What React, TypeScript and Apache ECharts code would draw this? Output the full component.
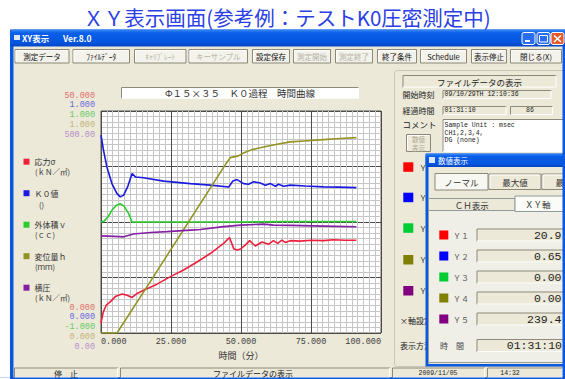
import React, { useEffect, useRef } from "react";
import * as echarts from "echarts";

// ---------- data ----------
const seriesNames = ["応力σ", "Ｋ０値", "外体積ｖ", "変位量ｈ", "横圧"];
const seriesUnits = ["(ｋＮ／㎡)", "()", "(ｃｃ)", "(ｍｍ)", "(ｋＮ／㎡)"];

const stressTime = [0, 0.8, 1.9, 3.3, 5.1, 7.5, 9.3, 11.1, 12.9, 15.8, 20, 24.8, 29.5, 34.3, 39, 43.8, 45.9, 47.4, 48.6, 49.8, 51.5, 53.1, 55.1, 57.5, 59.9, 61.6, 63.1, 64.6, 65.8, 67.6, 71, 75, 79.4, 83, 87, 91.2];
const stressValues = [2.2, 4.7, 6.3, 7.0, 8.2, 8.8, 8.5, 8.0, 8.9, 9.8, 11.0, 12.7, 14.2, 16.0, 17.9, 20.2, 21.5, 19.0, 18.7, 18.9, 19.8, 20.8, 19.6, 20.5, 20.0, 20.8, 20.2, 20.9, 20.4, 20.8, 20.7, 20.9, 20.8, 21.0, 20.9, 20.9];

const k0Time = [0, 0.9, 2.1, 3.9, 5.7, 6.9, 8.1, 9.5, 11.1, 12.3, 15.2, 22.4, 31.9, 39, 45.6, 47.1, 48.6, 50.9, 52.7, 54.5, 56.9, 58.7, 60.5, 62.3, 63.4, 65.2, 67.6, 73, 79.5, 85, 91.2];
const k0Values = [0.891, 0.823, 0.748, 0.673, 0.628, 0.613, 0.621, 0.658, 0.718, 0.703, 0.699, 0.684, 0.673, 0.666, 0.658, 0.685, 0.691, 0.673, 0.67, 0.681, 0.676, 0.666, 0.673, 0.661, 0.67, 0.661, 0.666, 0.662, 0.658, 0.657, 0.655];

const volumeTime = [0, 1.2, 2.6, 4.0, 5.5, 6.9, 8.3, 9.8, 11.1, 30, 50, 66, 91.2];
const volumeValues = [0, 0.01, 0.05, 0.11, 0.15, 0.165, 0.14, 0.08, 0, 0, 0, 0.005, 0.005];

const dispTime = [0, 5.7, 16.4, 44.75, 46.2, 49.1, 50.9, 53.9, 55.7, 59.3, 62.9, 67.6, 72.4, 79.5, 85.5, 91.2];
const dispValues = [0, 0, 0.208, 0.765, 0.79, 0.798, 0.811, 0.826, 0.831, 0.841, 0.85, 0.861, 0.865, 0.871, 0.876, 0.88];

const lateralTime = [0, 6.9, 8.1, 11.6, 17.6, 23.6, 31.9, 35.5, 43.8, 49.8, 58.1, 61.6, 67.6, 79.5, 91.2];
const lateralValues = [218.8, 217, 216.6, 223, 226.5, 228.3, 231.7, 233.2, 239.5, 242.9, 245.2, 242.9, 242.3, 240.7, 239.4];

const yMins = [0, 0, -1, 0, 0];
const yMaxs = [50, 1, 1, 1, 500];
const yMaxLabels = ["50.000", "1.000", "1.000", "1.000", "500.00"];
const yMinLabels = ["0.000", "0.000", "-1.000", "0.000", "0.00"];

const xTickValues = [0, 25, 50, 75, 100];
const xTickLabels = ["0.000", "25.000", "50.000", "75.000", "100.000"];
const xAxisName = "時間（分）";

const pageTitle = "ＸＹ表示画面(参考例：テストK0圧密測定中)";
const chartTitle = "Φ１５×３５　Ｋ０過程　時間曲線";
const toolbarLabels = ["測定データ", "ﾌｧｲﾙﾃﾞｰﾀ", "ｷｬﾘﾌﾞﾚｰﾄ", "キーサンプル", "設定保存", "測定開始", "測定終了", "終了条件", "Schedule", "表示停止", "閉じる(X)"];
const toolbarDisabled = [false, false, true, true, false, true, true, false, false, false, false];
const commentLines = ["Sample Unit : msec", "CH1,2,3,4,", "DG (none)"];
const dialogLabels = ["Ｙ１", "Ｙ２", "Ｙ３", "Ｙ４", "Ｙ５"];
const dialogValues = ["20.9", "0.65", "0.00", "0.00", "239.4"];

// ---------- styles ----------
const FONT_JP = '"Noto Sans CJK JP", "Noto Sans", sans-serif';
const FONT_MONO = '"Liberation Mono", "DejaVu Sans Mono", monospace';
const lineColors = ["#f0203c", "#1a1ae0", "#2ccc2c", "#939322", "#8420a4"];
const squareColors = ["#ff0000", "#0000ff", "#00cc33", "#808000", "#800080"];
const labelColors = ["#e07070", "#6868e0", "#66cc66", "#c4b47c", "#b890cc"];
const maxLabelShift = [15, 5.7, -4.3, -13.6, -24]; // + = up
const minLabelShift = [25.3, 15.7, 6, -3.7, -13.7];

const GRID = { left: 101, top: 111, width: 280, height: 222 };

function shiftPad(d: number) {
  return d >= 0 ? [0, 0, 2 * d, 0] : [-2 * d, 0, 0, 0];
}

function titleGrad() {
  return {
    type: "linear", x: 0, y: 0, x2: 0, y2: 1,
    colorStops: [
      { offset: 0, color: "#3d8bf7" },
      { offset: 0.2, color: "#0a5fe8" },
      { offset: 0.8, color: "#0654de" },
      { offset: 1, color: "#0043c0" },
    ],
  };
}

function buildGraphics() {
  const g: any[] = [];
  const rect = (x: number, y: number, w: number, h: number, fill: any, z: number, stroke?: string, r: number = 0) =>
    g.push({ type: "rect", z, silent: true, shape: { x, y, width: w, height: h, r }, style: { fill, stroke: stroke || null, lineWidth: stroke ? 1 : 0 } });
  const line = (pts: number[][], stroke: string, z: number, lw = 1) =>
    g.push({ type: "polyline", z, silent: true, shape: { points: pts }, style: { stroke, lineWidth: lw, fill: null } });
  const text = (x: number, y: number, s: string, o: any = {}) =>
    g.push({
      type: "text", z: o.z ?? 2, silent: true, x, y,
      style: {
        text: s, fill: o.color ?? "#000", fontSize: o.size ?? 8, fontFamily: o.font ?? FONT_JP,
        fontWeight: o.weight ?? "normal", align: o.align ?? "left", verticalAlign: "middle",
        textAlign: o.align ?? "left", textVerticalAlign: "middle",
      },
    });
  const sunken = (x: number, y: number, w: number, h: number, fill: string, z: number) => {
    rect(x, y, w, h, fill, z);
    line([[x + 0.5, y + h], [x + 0.5, y + 0.5], [x + w, y + 0.5]], "#8d8a7c", z);
    line([[x + w - 0.5, y + 0.5], [x + w - 0.5, y + h - 0.5], [x + 0.5, y + h - 0.5]], "#ffffff", z);
  };
  const raised = (x: number, y: number, w: number, h: number, fill: string, z: number) => {
    rect(x + 0.5, y + 0.5, w - 1, h - 1, fill, z, "#8b8878");
    line([[x + 1.5, y + h - 2], [x + 1.5, y + 1.5], [x + w - 2, y + 1.5]], "#ffffff", z);
  };

  // page + heading
  rect(0, 0, 565, 379, "#ffffff", -9);
  text(287, 16.5, pageTitle, { size: 20.5, color: "#2a40e6", align: "center" });

  // main window
  rect(10, 29.5, 560, 350, "#0b58e0", -8);
  rect(10, 29.5, 560, 17, titleGrad(), -8, undefined, 3);
  rect(13.5, 46.5, 560, 331, "#ece9d8", -7);
  rect(14, 35, 6, 5, "#dfe6f5", 1);
  text(22, 38, "XY表示", { size: 8.5, color: "#ffffff", weight: "bold" });
  text(63, 38, "Ver.8.0", { size: 8.5, color: "#ffffff", weight: "bold" });
  // caption buttons
  rect(522, 32.5, 13, 12, "#2a6ef0", 1, "#ffffff", 2);
  rect(525, 40, 5, 2, "#ffffff", 2);
  rect(537, 32.5, 13, 12, "#2a6ef0", 1, "#ffffff", 2);
  rect(539.5, 35.5, 8, 6.5, null, 2, "#ffffff");
  rect(551, 32.5, 13, 12, "#e35a2c", 1, "#ffffff", 2);
  line([[554, 35.5], [561, 42]], "#ffffff", 2, 1.5);
  line([[561, 35.5], [554, 42]], "#ffffff", 2, 1.5);

  // toolbar
  const tbX = [14.5, 72.5, 134, 188.5, 252, 293, 335, 377, 420, 471, 510];
  const tbW = [55, 57.5, 52.5, 59.5, 38, 38, 38, 40, 47, 36, 52];
  toolbarLabels.forEach((lab, i) => {
    raised(tbX[i], 49, tbW[i], 14.5, "#f3f2eb", -5);
    text(tbX[i] + tbW[i] / 2, 56.3, lab, { size: 7.5, align: "center", color: toolbarDisabled[i] ? "#b5b2a3" : "#111" });
  });

  // chart title box
  sunken(121, 87, 238, 11.5, "#ffffff", -5);
  text(240, 93, chartTitle, { size: 9.5, align: "center", color: "#333" });

  // legend units
  const unitY = [171.7, 204, 234.7, 266.3, 297.7];
  seriesUnits.forEach((u, i) => text(u === "()" ? 39 : 35, unitY[i], u, { size: 7.5, color: "#333" }));

  // right group box
  rect(394.5, 70.5, 180, 296, null, -6, "#c9c6b6", 3);
  sunken(402.5, 75, 154, 12.5, "#ece9d8", -5);
  text(479.5, 81.5, "ファイルデータの表示", { size: 8.5, align: "center", color: "#222" });
  text(402.5, 94.5, "開始時刻", { size: 8, color: "#222" });
  sunken(442.5, 90, 109, 9, "#ece9d8", -5);
  text(444.5, 94.7, "09/10/29TH 12:10:36", { size: 6.5, font: FONT_MONO, color: "#222" });
  text(402.5, 110.5, "経過時間", { size: 8, color: "#222" });
  sunken(442.5, 106, 64, 9, "#ece9d8", -5);
  text(444.5, 110.7, "01:31:10", { size: 6.5, font: FONT_MONO, color: "#222" });
  sunken(510, 106, 43, 9, "#ece9d8", -5);
  text(530, 110.7, "86", { size: 6.5, font: FONT_MONO, color: "#222", align: "center" });
  text(402.5, 123.5, "コメント", { size: 8.5, color: "#222" });
  sunken(442.5, 119, 130, 33, "#ffffff", -5);
  commentLines.forEach((c, i) => text(444.5, 125.5 + i * 7.6, c, { size: 6.5, font: FONT_MONO, color: "#222" }));
  raised(406, 134, 25, 18, "#ece9d8", -5);
  text(418.5, 139, "数値", { size: 6.5, align: "center", color: "#aca899" });
  text(418.5, 147.5, "表示", { size: 6.5, align: "center", color: "#aca899" });
  const sqTop = [162.3, 192.7, 223.3, 255, 286];
  squareColors.forEach((c, i) => {
    rect(403.3, sqTop[i], 10, 9.5, c, 1);
    text(419, sqTop[i] + 4.8, dialogLabels[i], { size: 8, color: "#333" });
  });
  text(400, 320.7, "×軸設定", { size: 8, color: "#222" });
  text(400, 345.7, "表示方法", { size: 8, color: "#222" });

  // status bar
  const sbX = [14, 120, 392, 487];
  const sbW = [104, 270, 93, 76];
  sbX.forEach((x, i) => sunken(x, 367.5, sbW[i], 10.5, "#ece9d8", -5));
  text(66, 373, "停　止", { size: 8, align: "center", color: "#222" });
  text(253, 373, "ファイルデータの表示", { size: 8, align: "center", color: "#222" });
  text(438, 373, "2009/11/05", { size: 6.5, align: "center", font: FONT_MONO, color: "#222" });
  text(510, 373, "14:32", { size: 6.5, align: "center", font: FONT_MONO, color: "#222" });

  // floating dialog
  rect(425.5, 153.5, 150, 213, "#0b58e0", 10);
  rect(425.5, 153.5, 150, 13.5, titleGrad(), 10, undefined, 3);
  rect(429, 157, 6, 6, "#dfe8f8", 11);
  text(438, 160.5, "数値表示", { size: 7.5, color: "#ffffff", z: 12 });
  rect(428.5, 167, 147, 197, "#ece9d8", 11);
  rect(435, 173.5, 53, 16.5, "#f8f8f3", 12, "#8b8878");
  text(461.5, 182, "ノーマル", { size: 8.5, align: "center", color: "#333", z: 13 });
  raised(488.5, 173.5, 53, 16.5, "#ece9d8", 12);
  text(515, 182, "最大値", { size: 8.5, align: "center", color: "#333", z: 13 });
  raised(541.5, 173.5, 40, 16.5, "#ece9d8", 12);
  text(555.5, 182, "最", { size: 8.5, color: "#333", z: 13 });
  rect(428.5, 210.5, 147, 152, "#efeee7", 12, "#919b9c");
  rect(428.5, 198.5, 86.5, 12, "#ece9d8", 12, "#919b9c");
  text(471.7, 204.5, "ＣＨ表示", { size: 8.5, align: "center", color: "#333", z: 13 });
  rect(515, 196, 60, 15.5, "#fbfbf8", 12.5, "#919b9c");
  text(525, 203.5, "ＸＹ軸", { size: 8.5, color: "#333", z: 13 });
  const rowY = [235, 256, 277, 298, 319];
  rowY.forEach((c, i) => {
    rect(439.3, c - 4.5, 9, 9, squareColors[i], 13);
    text(453, c, dialogLabels[i], { size: 8, color: "#555", z: 13 });
    sunken(476.5, c - 6.5, 95, 13, "#ece9d8", 13);
    text(561.5, c + 0.5, dialogValues[i], { size: 11.5, font: FONT_MONO, color: "#222", align: "right", z: 14 });
  });
  text(440, 345.5, "時　間", { size: 8, color: "#444", z: 13 });
  sunken(476.5, 339, 95, 13, "#ece9d8", 13);
  text(562, 345.8, "01:31:10", { size: 11.5, font: FONT_MONO, color: "#222", align: "right", z: 14 });

  // right window border
  rect(562.5, 46, 3, 333, "#0b58e0", 20);
  rect(0, 377.5, 565, 1.5, "#0b58e0", 20);
  rect(0, 377.5, 10, 1.5, "#ffffff", 21);
  return g;
}

function buildOption() {
  const seriesData = [
    [stressTime, stressValues],
    [k0Time, k0Values],
    [volumeTime, volumeValues],
    [dispTime, dispValues],
    [lateralTime, lateralValues],
  ];
  const yAxes = yMins.map((mn, i) => ({
    type: "value",
    min: mn,
    max: yMaxs[i],
    position: "left",
    ...(i === 0 ? { interval: 12.5 } : {}),
    axisLine: { show: false },
    axisTick: { show: false },
    splitLine: { show: i === 0, lineStyle: { color: "#4a4a4a", width: 1 } },
    minorTick: { show: false, splitNumber: 10 },
    minorSplitLine: { show: i === 0, lineStyle: { color: "#c6c6c6", width: 1 } },
    axisLabel: {
      customValues: [mn, yMaxs[i]],
      margin: 6,
      formatter: (v: number) => (v === yMaxs[i] ? `{t|${yMaxLabels[i]}}` : `{b|${yMinLabels[i]}}`),
      rich: {
        t: { color: labelColors[i], fontSize: 8.5, fontFamily: FONT_MONO, padding: shiftPad(maxLabelShift[i]) },
        b: { color: labelColors[i], fontSize: 8.5, fontFamily: FONT_MONO, padding: shiftPad(minLabelShift[i]) },
      },
    },
  }));

  return {
    animation: false,
    backgroundColor: "#ffffff",
    graphic: { elements: buildGraphics() },
    legend: {
      orient: "vertical",
      left: 23.5,
      top: 156.7,
      padding: 0,
      itemWidth: 6,
      itemHeight: 6,
      itemGap: 21.5,
      icon: "rect",
      selectedMode: false,
      textStyle: { fontSize: 8, lineHeight: 10, color: "#333", fontFamily: FONT_JP },
      data: seriesNames,
    },
    grid: { ...GRID, show: true, backgroundColor: "#ffffff", borderColor: "#5a5a5a", borderWidth: 1, containLabel: false },
    xAxis: {
      type: "value",
      min: 0,
      max: 100,
      interval: 25,
      axisLine: { show: false },
      axisTick: { show: false },
      splitLine: { show: true, lineStyle: { color: "#4a4a4a", width: 1 } },
      minorTick: { show: false, splitNumber: 12 },
      minorSplitLine: { show: true, lineStyle: { color: "#c6c6c6", width: 1 } },
      axisLabel: {
        margin: 4.5,
        fontSize: 8.5,
        fontFamily: FONT_MONO,
        color: "#404040",
        alignMinLabel: "left",
        alignMaxLabel: "right",
        formatter: (v: number) => {
          const k = xTickValues.indexOf(v);
          return k >= 0 ? xTickLabels[k] : "";
        },
      },
      name: xAxisName,
      nameLocation: "middle",
      nameGap: 17.5,
      nameTextStyle: { fontFamily: FONT_JP, fontSize: 9, color: "#333" },
    },
    yAxis: yAxes,
    series: seriesData.map(([xs, ys], i) => ({
      name: seriesNames[i],
      type: "line",
      yAxisIndex: i,
      showSymbol: false,
      symbol: "none",
      color: lineColors[i],
      itemStyle: { color: lineColors[i] },
      lineStyle: { color: lineColors[i], width: 1.6 },
      data: (xs as number[]).map((x, j) => [x, (ys as number[])[j]]),
      z: 3,
    })),
  };
}

export default function App() {
  const ref = useRef<HTMLDivElement>(null);
  useEffect(() => {
    if (!ref.current) return;
    const chart = echarts.init(ref.current, null, { renderer: "svg" });
    chart.setOption(buildOption() as any);
    return () => chart.dispose();
  }, []);
  return <div ref={ref} style={{ position: "fixed", left: 0, top: 0, width: 565, height: 379 }} />;
}
